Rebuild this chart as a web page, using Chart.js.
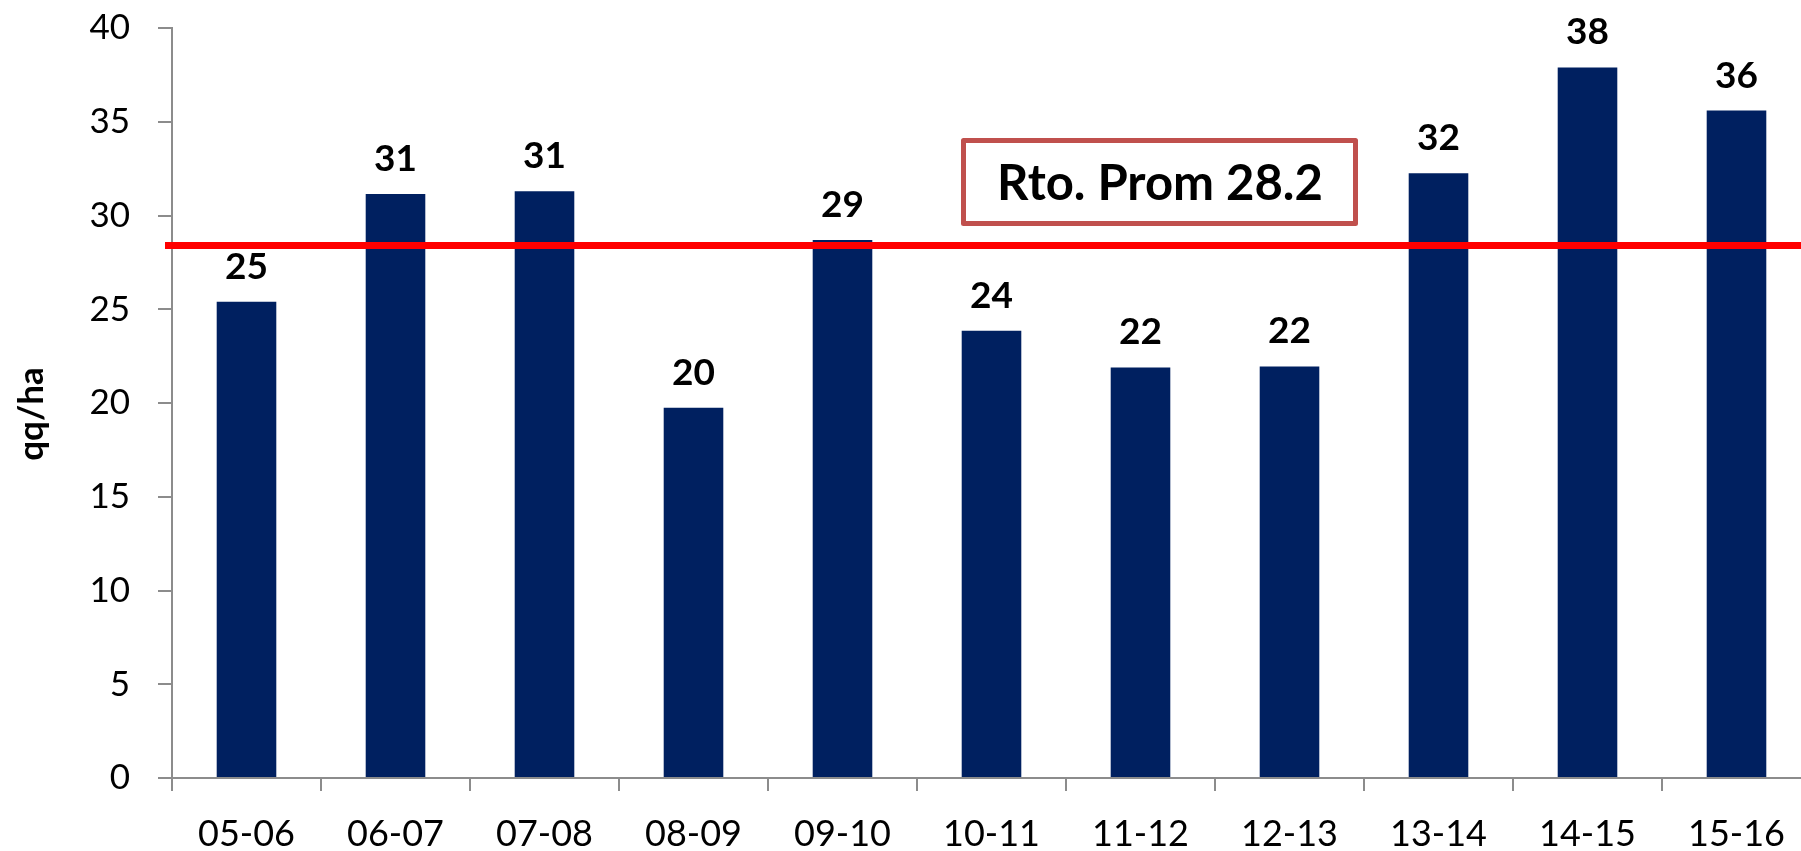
<!DOCTYPE html>
<html>
<head>
<meta charset="utf-8">
<script src="https://cdn.jsdelivr.net/npm/chart.js@4.4.0/dist/chart.umd.min.js"></script>
<style>
html, body { margin: 0; padding: 0; background: #fff; overflow: hidden; }
#wrap { width: 1811px; height: 851px; }
</style>
</head>
<body>
<div id="wrap"><canvas id="myChart" width="1811" height="851"></canvas></div>
<script>
// campañas y rendimiento (qq/ha)
const campanas = ['05-06', '06-07', '07-08', '08-09', '09-10', '10-11', '11-12', '12-13', '13-14', '14-15', '15-16'];
const rendimiento = [25.4, 31.15, 31.3, 19.75, 28.7, 23.85, 21.9, 21.95, 32.25, 37.9, 35.6];
const ticksY = [0, 5, 10, 15, 20, 25, 30, 35, 40];
const rtoProm = 28.2;       // valor del cuadro
const lineaProm = 28.4;     // donde esta dibujada la linea roja
const tituloY = 'qq/ha';

// linea roja, cuadro y etiquetas encima de las barras
const extras = {
    id: 'extras',
    afterDatasetsDraw(chart) {
        const ctx = chart.ctx;
        const x = chart.scales.x;
        const y = chart.scales.y;
        const meta = chart.getDatasetMeta(0);

        ctx.save();
        ctx.fillStyle = '#000';
        ctx.textAlign = 'center';
        ctx.textBaseline = 'alphabetic';
        ctx.font = 'bold 37px Lato';
        meta.data.forEach((bar, i) => {
            ctx.fillText(String(Math.round(rendimiento[i])), bar.x, bar.y - 23);
        });

        // promedio
        const yp = y.getPixelForValue(lineaProm);
        ctx.strokeStyle = '#FF0000';
        ctx.lineWidth = 7;
        ctx.beginPath();
        ctx.moveTo(x.left - 7, yp);
        ctx.lineTo(chart.width, yp);
        ctx.stroke();

        // cuadro
        ctx.strokeStyle = '#C0504D';
        ctx.lineWidth = 5;
        ctx.lineJoin = 'round';
        ctx.strokeRect(963.5, 140.5, 392, 83);
        ctx.font = 'bold 49px Lato';
        ctx.fillText('Rto. Prom ' + rtoProm.toFixed(1), 1160, 200);

        // titulo eje y
        ctx.translate(32, 414);
        ctx.rotate(-Math.PI / 2);
        ctx.textBaseline = 'middle';
        ctx.font = 'bold 35px Lato';
        ctx.fillText(tituloY, 0, 0);
        ctx.restore();
    }
};

const data = {
    labels: campanas,
    datasets: [{
        label: 'Rendimiento',
        data: rendimiento,
        backgroundColor: '#002060',
        borderWidth: 0,
        categoryPercentage: 1,
        barPercentage: 0.4
    }]
};

const config = {
    type: 'bar',
    data: data,
    options: {
        responsive: false,
        animation: false,
        layout: { padding: { top: 28, left: 0, right: 0, bottom: 0 } },
        plugins: {
            legend: { display: false },
            tooltip: { enabled: false }
        },
        scales: {
            x: {
                offset: true,
                border: { color: '#8c8c8c', width: 2 },
                grid: {
                    offset: true,
                    drawOnChartArea: false,
                    drawTicks: true,
                    tickLength: 13,
                    color: '#8c8c8c',
                    lineWidth: 2
                },
                ticks: {
                    color: '#000',
                    padding: 22,
                    maxRotation: 0,
                    font: { family: 'Lato', size: 36 }
                },
                afterFit(scale) { scale.height = 73; }
            },
            y: {
                min: 0,
                max: 40,
                border: { color: '#8c8c8c', width: 2 },
                grid: {
                    drawOnChartArea: false,
                    drawTicks: true,
                    tickLength: 14,
                    color: '#8c8c8c',
                    lineWidth: 2
                },
                afterBuildTicks(scale) {
                    scale.ticks = ticksY.map(v => ({ value: v }));
                },
                ticks: {
                    color: '#000',
                    padding: 28,
                    font: { family: 'Lato', size: 35 }
                },
                afterFit(scale) {
                    scale.width = 172;
                    scale.paddingTop = 0;
                    scale.paddingBottom = 0;
                }
            }
        }
    },
    plugins: [extras]
};

window.addEventListener('load', () => {
    new Chart(document.getElementById('myChart'), config);
});
</script>
</body>
</html>
